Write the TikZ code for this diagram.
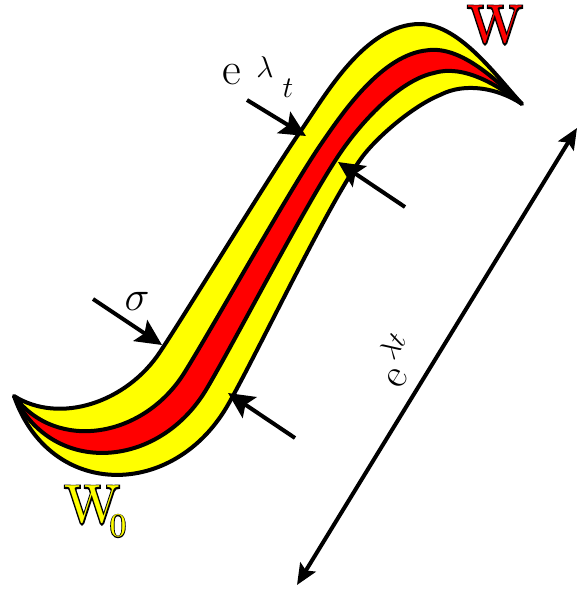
\RequirePackage{fix-cm}
\documentclass[tikz,border=0pt]{standalone}
\usepackage{fontspec}
\newfontfamily\lmfill{lmroman10-regular.otf}
\newfontfamily\lmstroke{lmroman10-regular.otf}[FakeBold=5]
\usetikzlibrary{arrows.meta,calc}
\definecolor{bandyellow}{RGB}{255,255,0}
\definecolor{bandred}{RGB}{255,0,0}
\tikzset{
  edgeline/.style={draw=black,line width=4pt,line join=round},
  pointer/.style={line width=4pt,-{Stealth[length=26pt,width=25pt,inset=5pt]}},
  dimline/.style={line width=4pt,{Stealth[length=21pt,width=18pt,inset=4pt]}-{Stealth[length=21pt,width=18pt,inset=4pt]}},
  lbl/.style={inner sep=0pt,text=black},
}
\newcommand{\outl}[2]{\makebox[0pt][l]{\lmstroke\color{black}#2}{\lmfill\color{#1}#2}}
\begin{document}
\begin{tikzpicture}[x=1pt,y=-1pt]
\useasboundingbox (0,0) rectangle (579,590);
% control points of the upper (u) and lower (l) outer edges, 4 cubic segments each
\foreach \i/\ux/\uy/\lx/\ly in {
  0/14/396/14/396, 1/60/425/50/500, 2/127/402/175/500, 3/160/352/229/403,
  4/187.5/310.5/258.4/350.8, 5/271.5/173/325.8/209.2, 6/300/132/360/160,
  7/325.6/95/374/139.5, 8/365/24/412/106.4, 9/420/24/440/95,
  10/460/24/465/82, 11/498/78.5/498/88, 12/522/104/522/104}{
  \coordinate (u\i) at (\ux,\uy);
  \coordinate (l\i) at (\lx,\ly);
  \coordinate (a\i) at ($(u\i)!0.37!(l\i)$);
  \coordinate (b\i) at ($(u\i)!0.69!(l\i)$);
}
% yellow band
\fill[bandyellow] (u0) .. controls (u1) and (u2) .. (u3) .. controls (u4) and (u5) .. (u6)
  .. controls (u7) and (u8) .. (u9) .. controls (u10) and (u11) .. (u12)
  .. controls (l11) and (l10) .. (l9) .. controls (l8) and (l7) .. (l6)
  .. controls (l5) and (l4) .. (l3) .. controls (l2) and (l1) .. (l0) -- cycle;
% red strip
\fill[bandred] (a0) .. controls (a1) and (a2) .. (a3) .. controls (a4) and (a5) .. (a6)
  .. controls (a7) and (a8) .. (a9) .. controls (a10) and (a11) .. (a12)
  .. controls (b11) and (b10) .. (b9) .. controls (b8) and (b7) .. (b6)
  .. controls (b5) and (b4) .. (b3) .. controls (b2) and (b1) .. (b0) -- cycle;
\draw[edgeline] (a0) .. controls (a1) and (a2) .. (a3) .. controls (a4) and (a5) .. (a6)
  .. controls (a7) and (a8) .. (a9) .. controls (a10) and (a11) .. (a12);
\draw[edgeline] (b0) .. controls (b1) and (b2) .. (b3) .. controls (b4) and (b5) .. (b6)
  .. controls (b7) and (b8) .. (b9) .. controls (b10) and (b11) .. (b12);
\draw[edgeline] (u0) .. controls (u1) and (u2) .. (u3) .. controls (u4) and (u5) .. (u6)
  .. controls (u7) and (u8) .. (u9) .. controls (u10) and (u11) .. (u12)
  .. controls (l11) and (l10) .. (l9) .. controls (l8) and (l7) .. (l6)
  .. controls (l5) and (l4) .. (l3) .. controls (l2) and (l1) .. (l0) -- cycle;

% pointer arrows
\coordinate (p1s) at (247,100); \coordinate (p1e) at (306,136);
\coordinate (p2s) at (405,207); \coordinate (p2e) at (338,162);
\coordinate (p3s) at (93,299);  \coordinate (p3e) at (162,345);
\coordinate (p4s) at (295,438); \coordinate (p4e) at (228,393);
\draw[pointer] (p1s) -- (p1e);
\draw[pointer] (p2s) -- (p2e);
\draw[pointer] (p3s) -- (p3e);
\draw[pointer] (p4s) -- (p4e);
% dimension arrow
\coordinate (d1) at (297,585); \coordinate (d2) at (577,128);
\draw[dimline] (d1) -- (d2);

% labels
\node[lbl,font=\fontsize{54}{54}\selectfont] (W) at (495,25) {\outl{bandred}{W}};
\node[lbl,font=\fontsize{54}{54}\selectfont] (W0) at (92,505) {\outl{bandyellow}{W}};
\node[lbl,font=\fontsize{33}{33}\selectfont] (W0sub) at (118,526) {\outl{bandyellow}{0}};
\node[lbl,font=\fontsize{46}{46}\selectfont] (e1) at (232,75) {e};
\node[lbl,font=\fontsize{30}{30}\selectfont] (lam1) at (265,67) {$\lambda$};
\node[lbl,font=\fontsize{30}{30}\selectfont] (t1) at (288,88) {$t$};
\node[lbl,font=\fontsize{42}{42}\selectfont] (sig) at (137,301) {$\sigma$};
\node[lbl,font=\fontsize{42}{42}\selectfont,rotate=58] (e2) at (396,360) {e\kern3pt\raisebox{0.5em}{\fontsize{28}{28}\selectfont$\lambda t$}};
\end{tikzpicture}
\end{document}
